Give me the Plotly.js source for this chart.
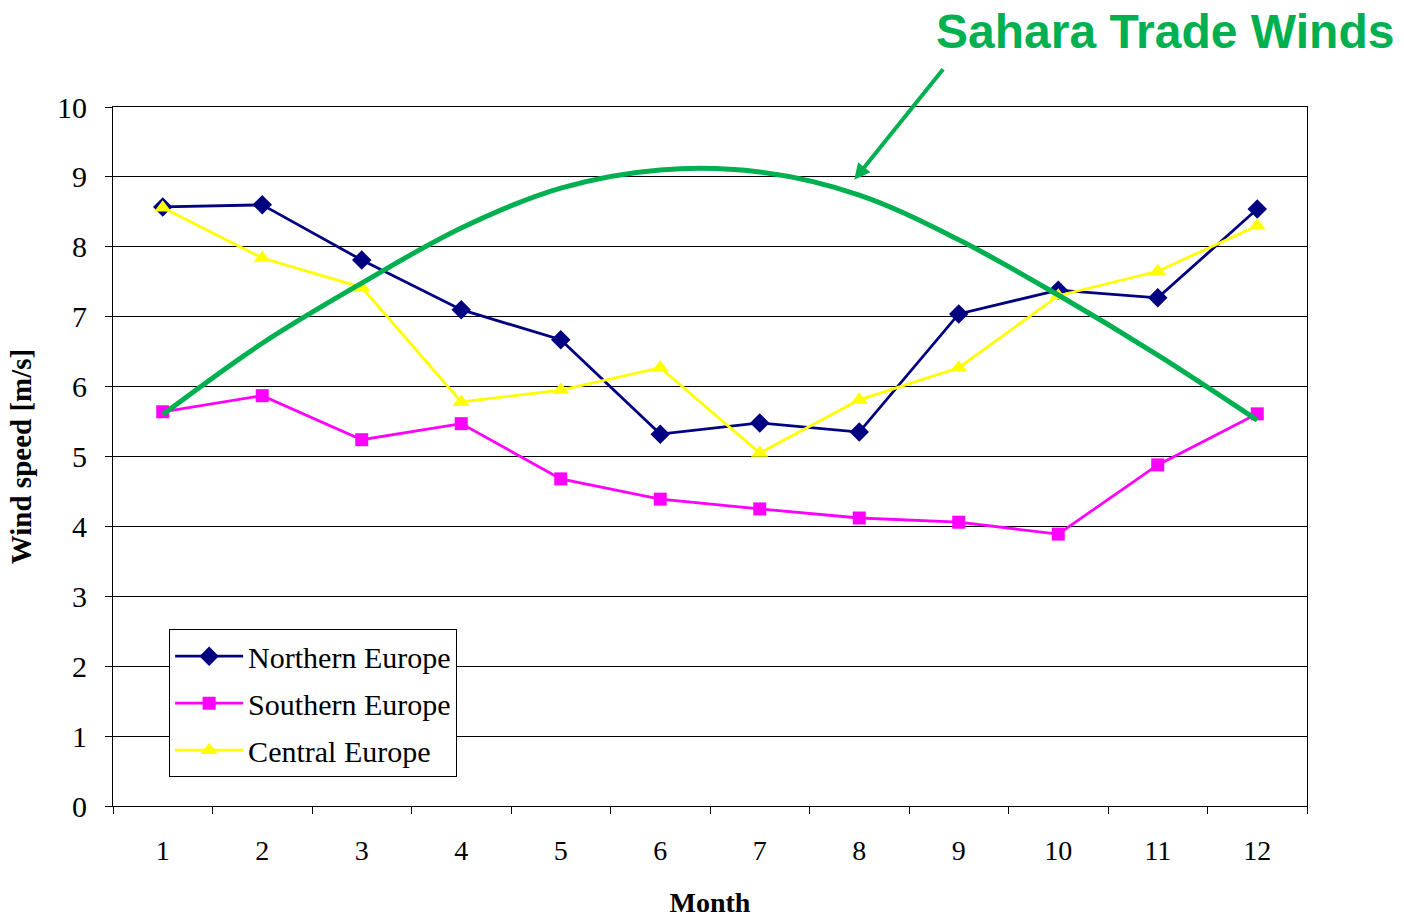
<!DOCTYPE html>
<html>
<head>
<meta charset="utf-8">
<script src="https://cdn.plot.ly/plotly-3.0.1.min.js"></script>
<style>html,body{margin:0;padding:0;background:#fff;}#chart{width:1404px;height:918px;}</style>
</head>
<body>
<div id="chart"></div>
<script>
var months = ['1','2','3','4','5','6','7','8','9','10','11','12'];
var northernEurope = [8.57, 8.60, 7.81, 7.10, 6.67, 5.32, 5.48, 5.35, 7.04, 7.38, 7.27, 8.54];
var southernEurope = [5.64, 5.87, 5.24, 5.47, 4.68, 4.39, 4.25, 4.12, 4.06, 3.89, 4.88, 5.61];
var centralEurope  = [8.56, 7.84, 7.42, 5.78, 5.95, 6.27, 5.05, 5.81, 6.27, 7.30, 7.65, 8.30];
var saharaCurve    = [5.60, 6.62, 7.48, 8.27, 8.84, 9.10, 9.07, 8.74, 8.10, 7.31, 6.45, 5.52];
var yTicks = [0,1,2,3,4,5,6,7,8,9,10];

var serif = 'Liberation Serif, Times New Roman, serif';

var traces = [
  {x: months, y: northernEurope, name: 'Northern Europe', type: 'scatter', mode: 'lines+markers', legendgroup: 'n',
   line: {color: '#000080', width: 2.8}, marker: {symbol: 'diamond', size: 15, color: '#000080'}},
  {x: months, y: southernEurope, name: 'Southern Europe', type: 'scatter', mode: 'lines+markers', legendgroup: 's',
   line: {color: '#FF00FF', width: 2.8}, marker: {symbol: 'square', size: 13, color: '#FF00FF'}},
  {x: months, y: centralEurope, name: 'Central Europe', type: 'scatter', mode: 'lines+markers', legendgroup: 'c',
   line: {color: '#FFFF00', width: 2.8}, marker: {symbol: 'triangle-up', size: 15, color: '#FFFF00'}},
  {x: months, y: saharaCurve, name: 'Sahara Trade Winds', type: 'scatter', mode: 'lines',
   line: {color: '#00B050', width: 5, shape: 'spline', smoothing: 1}, showlegend: false, hoverinfo: 'skip'}
];

var layout = {
  width: 1404, height: 918,
  margin: {l: 113, r: 97, t: 107, b: 112},
  paper_bgcolor: '#fff', plot_bgcolor: '#fff',
  showlegend: true,
  font: {family: serif, color: '#000'},
  xaxis: {
    type: 'category', range: [-0.5, 11.5], tickson: 'boundaries', ticks: 'outside', ticklen: 7, tickcolor: '#000',
    showline: true, linecolor: '#000', linewidth: 1, mirror: true, showgrid: false, zeroline: false,
    tickfont: {family: serif, size: 28, color: '#000'}, ticklabelstandoff: 19,
    title: {text: 'Month', font: {family: serif, size: 28, color: '#000', weight: 'bold'}, standoff: 30}
  },
  yaxis: {
    range: [0, 10], tickvals: yTicks, ticks: 'outside', ticklen: 7, tickcolor: '#000',
    showline: true, linecolor: '#000', linewidth: 1, mirror: true,
    showgrid: true, gridcolor: '#000', gridwidth: 1, zeroline: false,
    tickfont: {family: serif, size: 30, color: '#000'}, ticklabelstandoff: 12,
    title: {text: 'Wind speed [m/s]', font: {family: serif, size: 29, color: '#000', weight: 'bold'}, standoff: 16}
  },
  legend: {
    x: 0.047, y: 0.253, xanchor: 'left', yanchor: 'top',
    bgcolor: '#fff', bordercolor: '#000', borderwidth: 1,
    font: {family: serif, size: 30, color: '#000'}, tracegroupgap: 5, itemwidth: 68
  },
  annotations: [
    {x: 6.95, y: 8.96, xref: 'x', yref: 'y', ax: 90, ay: -112, text: '', showarrow: true,
     arrowhead: 2, arrowsize: 0.8, arrowwidth: 4, arrowcolor: '#00B050'},
    {x: 1.0745, y: 1.108, xref: 'paper', yref: 'paper', xanchor: 'right', yanchor: 'middle',
     text: 'Sahara Trade Winds', showarrow: false,
     font: {family: 'Liberation Sans, Arial, sans-serif', size: 48, color: '#00B050', weight: 'bold'}}
  ]
};

Plotly.newPlot('chart', traces, layout, {displayModeBar: false, responsive: false});
</script>
</body>
</html>
